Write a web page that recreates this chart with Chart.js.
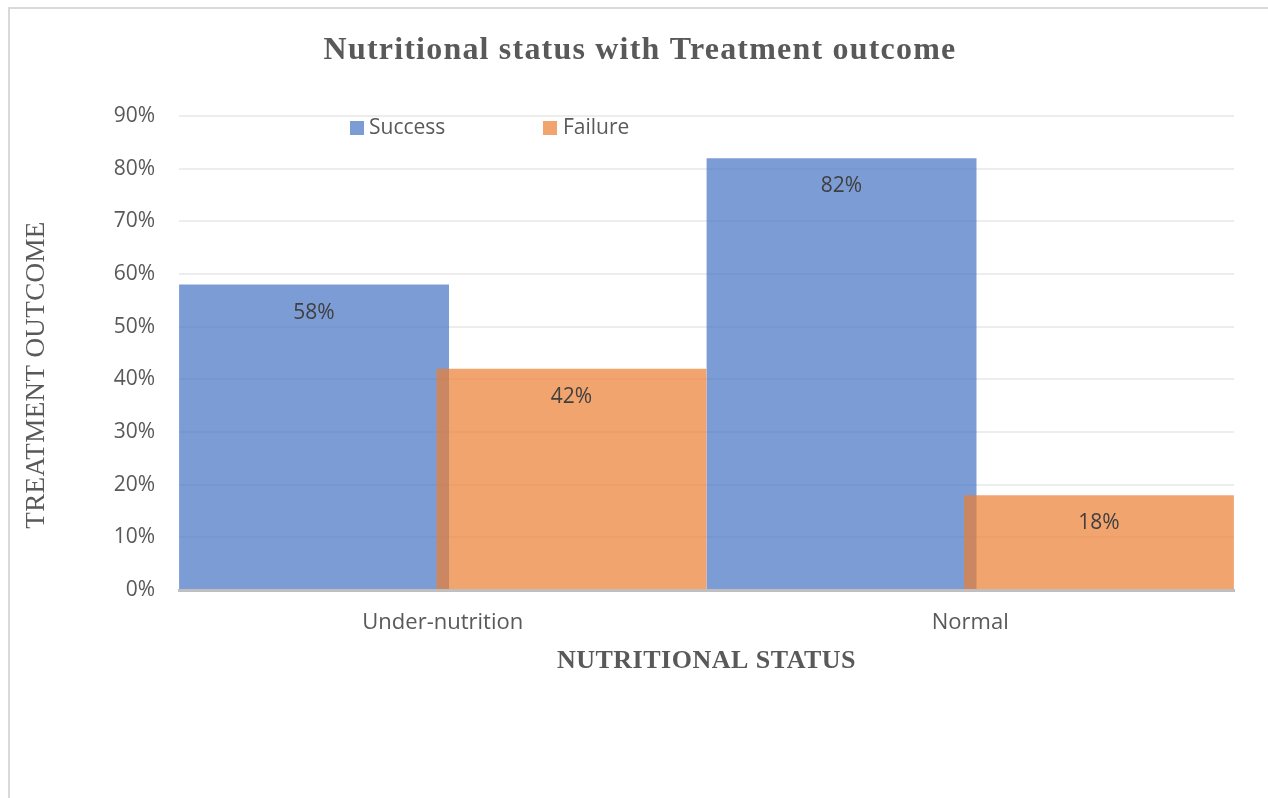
<!DOCTYPE html>
<html>
<head>
<meta charset="utf-8">
<script src="https://cdn.jsdelivr.net/npm/chart.js@4.4.1/dist/chart.umd.min.js"></script>
<style>
  html, body { margin: 0; padding: 0; background: #fff; }
  #wrap { position: relative; width: 1268px; height: 798px; }
  #frame { position: absolute; left: 8px; top: 7px; right: 0; bottom: 0;
           border-top: 2px solid #d9d9d9; border-left: 2px solid #d9d9d9; }
  canvas { position: absolute; left: 0; top: 0; }
</style>
</head>
<body>
<div id="wrap">
  <div id="frame"></div>
  <canvas id="myChart" width="1268" height="798"></canvas>
</div>
<script>
// datos del gráfico
const categories = ["Under-nutrition", "Normal"];
const success = [58, 82];
const failure = [42, 18];
const yTicks = [0, 10, 20, 30, 40, 50, 60, 70, 80, 90];

const mainTitle = "Nutritional status with Treatment outcome";
const xTitle = "NUTRITIONAL STATUS";
const yTitle = "TREATMENT OUTCOME";

const blue = "rgba(68, 114, 196, 0.7)";
const orange = "rgba(237, 125, 49, 0.7)";

// dibujar las series en orden (Failure encima de Success, como en Excel)
const drawOrder = {
  id: "drawOrder",
  beforeDatasetsDraw(chart) {
    chart.getSortedVisibleDatasetMetas().forEach(meta => meta.controller.draw());
    return false;
  }
};

// textos dibujados a mano: título, títulos de ejes, leyenda y etiquetas
const extras = {
  id: "extras",
  afterDraw(chart) {
    const ctx = chart.ctx;
    const area = chart.chartArea;
    ctx.save();

    // etiquetas de datos
    ctx.fillStyle = "#404040";
    ctx.font = "21px 'Open Sans'";
    ctx.textAlign = "center";
    ctx.textBaseline = "middle";
    chart.data.datasets.forEach((ds, i) => {
      chart.getDatasetMeta(i).data.forEach((bar, j) => {
        ctx.fillText(ds.data[j] + "%", bar.x, bar.y + 28);
      });
    });

    // leyenda
    ctx.textAlign = "left";
    ctx.fillStyle = blue;
    ctx.fillRect(350, 121, 14, 14);
    ctx.fillStyle = orange;
    ctx.fillRect(543, 121, 14, 14);
    ctx.fillStyle = "#595959";
    ctx.fillText("Success", 369, 128);
    ctx.fillText("Failure", 563, 128);

    // título principal
    ctx.textAlign = "center";
    ctx.textBaseline = "alphabetic";
    ctx.font = "bold 32px 'Liberation Serif'";
    ctx.letterSpacing = "1.2px";
    ctx.fillText(mainTitle, 640, 59);

    // título eje x
    ctx.font = "bold 26px 'Liberation Serif'";
    ctx.letterSpacing = "0.5px";
    ctx.fillText(xTitle, (area.left + area.right) / 2, 668);

    // título eje y
    ctx.font = "27px 'Liberation Serif'";
    ctx.letterSpacing = "0.4px";
    ctx.translate(44, 375);
    ctx.rotate(-Math.PI / 2);
    ctx.fillText(yTitle, 0, 0);
    ctx.restore();
  }
};

const ctx = document.getElementById("myChart").getContext("2d");
const myChart = new Chart(ctx, {
  type: "bar",
  data: {
    labels: categories,
    datasets: [
      { label: "Success", data: success, backgroundColor: blue,
        categoryPercentage: 0.976, barPercentage: 1.0485 },
      { label: "Failure", data: failure, backgroundColor: orange,
        categoryPercentage: 0.976, barPercentage: 1.0485 }
    ]
  },
  options: {
    responsive: false,
    animation: false,
    layout: { padding: { top: 116, right: 34, left: 0, bottom: 0 } },
    plugins: {
      legend: { display: false },
      title: { display: false },
      tooltip: { enabled: false }
    },
    scales: {
      x: {
        grid: { display: false },
        border: { display: true, color: "#bfbfbf", width: 3 },
        ticks: { color: "#595959", font: { family: "'Open Sans'", size: 22 }, padding: 12 },
        afterFit: (s) => { s.height = 208; }
      },
      y: {
        min: 0,
        max: 90,
        afterBuildTicks: (s) => { s.ticks = yTicks.map(v => ({ value: v })); },
        grid: { color: "#ededed", lineWidth: 2, drawTicks: false },
        border: { display: false },
        ticks: {
          color: "#595959",
          font: { family: "'Open Sans'", size: 21 },
          padding: 24,
          callback: (v) => v + "%"
        },
        afterFit: (s) => { s.width = 179; }
      }
    }
  },
  plugins: [drawOrder, extras]
});
</script>
</body>
</html>
